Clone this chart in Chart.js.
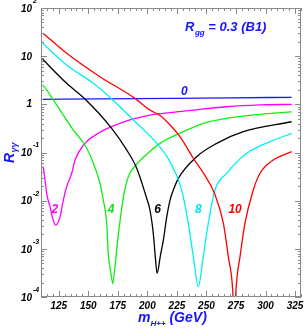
<!DOCTYPE html>
<html>
<head>
<meta charset="utf-8">
<script src="https://cdn.jsdelivr.net/npm/chart.js@4.4.1/dist/chart.umd.min.js"></script>
<style>
  html, body { margin: 0; padding: 0; background: #fff; }
  #wrap { position: relative; width: 305px; height: 328px; }
</style>
</head>
<body>
<div id="wrap"><canvas id="ratioChart"></canvas></div>
<script>
// m_H++ (GeV) and R_gamma-gamma, one pair of arrays per curve
const massCurve0 = [111.4, 160, 219.2, 270, 322.1];
const ratioCurve0 = [1.27, 1.30, 1.33, 1.36, 1.40];

const massCurve2 = [111.9, 113.4, 114.8, 117.6, 119.9, 122.3, 126.1, 128.9, 131.7, 136.0, 138.8, 147.2, 158.5, 169.8, 185.3, 202.2, 219.2, 238.9, 267.1, 295.3, 322.1];
const ratioCurve2 = [0.0507, 0.0269, 0.0142, 0.0075, 0.0043, 0.0031, 0.0046, 0.0103, 0.0195, 0.037, 0.070, 0.155, 0.251, 0.344, 0.473, 0.60, 0.67, 0.76, 0.89, 0.97, 1.0];

const massCurve4 = [111.4, 114.8, 120.4, 126.1, 137.3, 147.2, 154.3, 159.9, 162.7, 165.6, 166.9, 169.2, 170.7, 172.6, 174.6, 177.4, 180.2, 183.9, 190.4, 203.1, 210.7, 227.6, 247.3, 267.1, 295.3, 322.1];
const ratioCurve4 = [2.52, 1.99, 1.23, 0.76, 0.293, 0.143, 0.060, 0.023, 0.0103, 0.0034, 0.00081, 0.00031, 0.00019, 0.00043, 0.0013, 0.0047, 0.0138, 0.0315, 0.055, 0.110, 0.155, 0.251, 0.404, 0.513, 0.62, 0.70];

const massCurve6 = [111.4, 131.7, 147.2, 169.8, 182.5, 191.0, 199.4, 202.2, 205.0, 206.6, 208.2, 211.1, 213.5, 216.4, 219.2, 222.0, 226.2, 241.7, 258.7, 281.2, 322.1];
const ratioCurve6 = [8.6, 2.73, 1.29, 0.318, 0.113, 0.047, 0.0112, 0.0064, 0.0021, 0.00074, 0.00031, 0.00074, 0.0015, 0.0046, 0.0103, 0.0166, 0.029, 0.082, 0.155, 0.27, 0.435];

const massCurve8 = [111.4, 131.7, 154.3, 169.8, 188.1, 207.9, 219.2, 229.1, 234.6, 238.9, 243.1, 247.3, 251.6, 257.2, 267.1, 284.1, 303.8, 322.1];
const ratioCurve8 = [18.5, 6.56, 2.73, 1.29, 0.473, 0.155, 0.064, 0.0166, 0.0034, 0.00069, 0.000164, 0.00069, 0.0034, 0.0166, 0.037, 0.096, 0.168, 0.25];

const massCurve10 = [111.4, 131.7, 159.9, 189.5, 202.2, 210.7, 219.2, 227.6, 238.9, 248.8, 256.8, 264.3, 268.5, 272.2, 273.6, 275.0, 278.4, 282.6, 289.6, 295.3, 306.6, 322.1];
const ratioCurve10 = [30.3, 11.5, 3.75, 1.33, 0.76, 0.586, 0.372, 0.213, 0.076, 0.033, 0.0142, 0.0034, 0.00069, 0.00014, 0.00002, 0.00014, 0.00069, 0.0034, 0.0166, 0.037, 0.070, 0.104];

// curve tags (text, mass, ratio where the tag sits)
const curveTags = [
    ['0', 231.2, 1.83, '#1414ff'],
    ['2', 121.8, 0.0066, '#ff00ff'],
    ['4', 169.2, 0.0066, '#11e011'],
    ['6', 208.7, 0.0066, '#000000'],
    ['8', 243.1, 0.0066, '#00e8e8'],
    ['10', 274.2, 0.0066, '#ff0000']
];

const xTickValues = [125, 150, 175, 200, 225, 250, 275, 300, 325];
const yTickExponents = [2, 1, 0, -1, -2, -3, -4];

function toPoints(mass, ratio) {
    return mass.map((m, i) => ({ x: m, y: ratio[i] }));
}

function curve(mass, ratio, color) {
    return {
        data: toPoints(mass, ratio),
        borderColor: color,
        borderWidth: 1.3,
        pointRadius: 0,
        fill: false,
        cubicInterpolationMode: 'monotone'
    };
}

const FONT = '"Liberation Sans", Arial, sans-serif';
const AXIS_GREY = '#8a8a8a';
const TITLE_BLUE = '#1414ff';

// frame, inner ticks, tick labels and all titles
const framePlugin = {
    id: 'frame',
    afterDatasetsDraw(chart) {
        const ctx = chart.ctx;
        const a = chart.chartArea;
        const xs = chart.scales.x;
        const ys = chart.scales.y;
        ctx.save();
        ctx.strokeStyle = AXIS_GREY;
        ctx.lineWidth = 1;
        ctx.strokeRect(a.left + 0.5, a.top + 0.5, a.right - a.left - 1, a.bottom - a.top - 1);

        ctx.beginPath();
        // x ticks every 5 GeV, major every 25
        for (let m = 110; m <= 330; m += 5) {
            const px = Math.round(xs.getPixelForValue(m)) + 0.5;
            const len = (m % 25 === 0) ? 6 : 3;
            ctx.moveTo(px, a.bottom);
            ctx.lineTo(px, a.bottom - len);
            ctx.moveTo(px, a.top);
            ctx.lineTo(px, a.top + len);
        }
        // y ticks, decades and 2..9 minors
        for (let e = -4; e <= 2; e++) {
            for (let k = 1; k <= 9; k++) {
                if (e === 2 && k > 1) break;
                const py = Math.round(ys.getPixelForValue(k * Math.pow(10, e))) + 0.5;
                const len = k === 1 ? 6 : 3;
                ctx.moveTo(a.left, py);
                ctx.lineTo(a.left + len, py);
                ctx.moveTo(a.right, py);
                ctx.lineTo(a.right - len, py);
            }
        }
        ctx.stroke();

        // tick labels
        ctx.fillStyle = '#000';
        ctx.font = 'bold italic 10px ' + FONT;
        ctx.textAlign = 'center';
        ctx.textBaseline = 'middle';
        xTickValues.forEach(v => {
            ctx.fillText(String(v), xs.getPixelForValue(v), a.bottom + 9);
        });

        yTickExponents.forEach(e => {
            const py = ys.getPixelForValue(Math.pow(10, e));
            ctx.textBaseline = 'middle';
            ctx.textAlign = 'right';
            ctx.font = 'bold italic 10px ' + FONT;
            if (e === 0) {
                ctx.fillText('1', 32, py);
            } else {
                ctx.fillText('10', 32, py + 1);
                if (e !== 1) {
                    ctx.textAlign = 'left';
                    ctx.font = 'bold italic 7px ' + FONT;
                    ctx.fillText(String(e), 33, py - 7);
                }
            }
        });

        // curve tags
        ctx.font = 'bold italic 12px ' + FONT;
        ctx.textAlign = 'center';
        ctx.textBaseline = 'middle';
        curveTags.forEach(t => {
            ctx.fillStyle = t[3];
            ctx.fillText(t[0], xs.getPixelForValue(t[1]), ys.getPixelForValue(t[2]));
        });

        // plot title R_gg = 0.3 (B1)
        ctx.fillStyle = TITLE_BLUE;
        ctx.textAlign = 'left';
        ctx.textBaseline = 'alphabetic';
        let x = 185;
        ctx.font = 'bold italic 13px ' + FONT;
        ctx.fillText('R', x, 31);
        x += ctx.measureText('R').width + 0.5;
        ctx.font = 'bold italic 8px ' + FONT;
        ctx.fillText('gg', x, 35);
        x += ctx.measureText('gg').width;
        ctx.font = 'bold italic 13px ' + FONT;
        ctx.fillText(' = 0.3 (B1)', x, 31);

        // x title m_H++ (GeV)
        x = 138;
        ctx.font = 'bold italic 14px ' + FONT;
        ctx.fillText('m', x, 322);
        x += ctx.measureText('m').width;
        ctx.font = 'bold italic 8px ' + FONT;
        ctx.fillText('H++', x, 326);
        x += ctx.measureText('H++').width;
        ctx.font = 'bold italic 14px ' + FONT;
        ctx.fillText(' (GeV)', x, 322);

        // y title R_γγ, rotated
        ctx.translate(14, 163);
        ctx.rotate(-Math.PI / 2);
        ctx.font = 'bold italic 14px ' + FONT;
        ctx.fillText('R', 0, 0);
        const rw = ctx.measureText('R').width;
        ctx.font = 'bold italic 9px ' + FONT;
        ctx.fillText('γγ', rw + 0.5, 3);
        ctx.restore();
    }
};

document.addEventListener('DOMContentLoaded', function() {
    const ctx = document.getElementById('ratioChart');
    new Chart(ctx, {
        type: 'line',
        data: {
            datasets: [
                curve(massCurve10, ratioCurve10, '#ff0000'),
                curve(massCurve8, ratioCurve8, '#00f0f0'),
                curve(massCurve6, ratioCurve6, '#000000'),
                curve(massCurve4, ratioCurve4, '#11ee11'),
                curve(massCurve2, ratioCurve2, '#ff00ff'),
                curve(massCurve0, ratioCurve0, '#1a1aff')
            ]
        },
        options: {
            responsive: true,
            maintainAspectRatio: false,
            animation: false,
            devicePixelRatio: 1,
            layout: {
                padding: { left: 41, right: 4, top: 8, bottom: 31 }
            },
            plugins: {
                legend: { display: false },
                tooltip: { enabled: false }
            },
            scales: {
                x: {
                    type: 'linear',
                    min: 110,
                    max: 330,
                    display: false
                },
                y: {
                    type: 'logarithmic',
                    min: 1e-4,
                    max: 100,
                    display: false
                }
            }
        },
        plugins: [framePlugin]
    });
});
</script>
</body>
</html>
